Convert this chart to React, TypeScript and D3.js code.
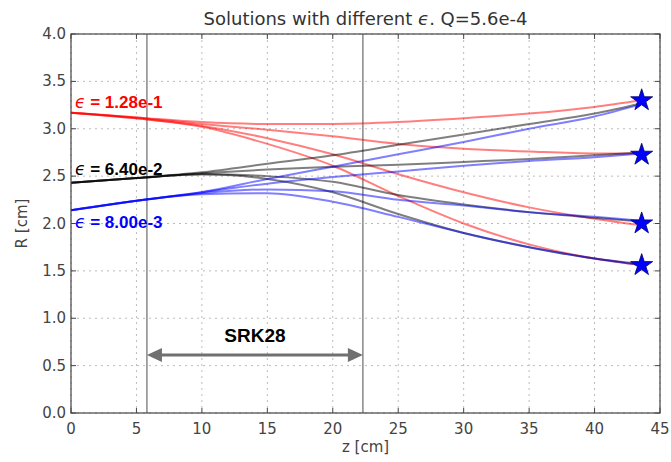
import React from "react";
import * as d3 from "d3";

const zSamples = [0, 5, 10, 15, 20, 25, 30, 35, 40, 43.6];

const redSeries = [
  [3.17, 3.12, 3.07, 3.05, 3.05, 3.07, 3.11, 3.16, 3.23, 3.3],
  [3.17, 3.12, 3.05, 2.99, 2.92, 2.84, 2.79, 2.76, 2.74, 2.74],
  [3.17, 3.11, 3.03, 2.9, 2.73, 2.52, 2.33, 2.17, 2.05, 1.98],
  [3.17, 3.11, 3.02, 2.84, 2.61, 2.29, 2.0, 1.78, 1.63, 1.56],
];
const blackSeries = [
  [2.43, 2.48, 2.54, 2.63, 2.72, 2.83, 2.94, 3.05, 3.16, 3.27],
  [2.43, 2.48, 2.53, 2.57, 2.6, 2.62, 2.65, 2.68, 2.72, 2.75],
  [2.43, 2.48, 2.52, 2.5, 2.44, 2.3, 2.2, 2.12, 2.06, 2.02],
  [2.43, 2.48, 2.52, 2.47, 2.33, 2.1, 1.9, 1.75, 1.63, 1.57],
];
const blueSeries = [
  [2.14, 2.24, 2.33, 2.47, 2.6, 2.73, 2.86, 3.0, 3.13, 3.26],
  [2.14, 2.24, 2.33, 2.42, 2.49, 2.55, 2.61, 2.66, 2.7, 2.74],
  [2.14, 2.24, 2.32, 2.36, 2.34, 2.25, 2.19, 2.12, 2.07, 2.03],
  [2.14, 2.24, 2.31, 2.32, 2.23, 2.07, 1.9, 1.75, 1.63, 1.56],
];

const targetZ = [43.6, 43.6, 43.6, 43.6];
const targetR = [3.3, 2.725, 2.0, 1.56];

const xTicks = [0, 5, 10, 15, 20, 25, 30, 35, 40, 45];
const yTicks = [0, 0.5, 1, 1.5, 2, 2.5, 3, 3.5, 4];

const srkStart = 5.8;
const srkEnd = 22.3;

const epsLabels = [
  { text: "1.28e-1", r: 3.22, color: "#ff0000" },
  { text: "6.40e-2", r: 2.51, color: "#000000" },
  { text: "8.00e-3", r: 1.95, color: "#0000ff" },
];

const W = 671;
const H = 462;
const M = { left: 71, right: 11, top: 34, bottom: 49 };

export default function App() {
  const x = d3.scaleLinear().domain([0, 45]).range([M.left, W - M.right]);
  const y = d3.scaleLinear().domain([0, 4]).range([H - M.bottom, M.top]);
  const line = d3
    .line<number>()
    .x((_, i) => x(zSamples[i]))
    .y((d) => y(d))
    .curve(d3.curveMonotoneX);

  const groups = [
    { data: redSeries, color: "#ff0000" },
    { data: blackSeries, color: "#000000" },
    { data: blueSeries, color: "#0000ff" },
  ];

  const star = d3.symbol().type(d3.symbolStar).size(150)() as string;
  const font = "DejaVu Sans, sans-serif";
  const x0 = M.left;
  const x1 = W - M.right;
  const yT = M.top;
  const yB = H - M.bottom;
  const ay = 355;
  const ax0 = x(srkStart);
  const ax1 = x(srkEnd);

  return (
    <svg
      width={W}
      height={H}
      style={{ position: "absolute", left: 0, top: 0, background: "#fff" }}
    >
      <defs>
        <clipPath id="plot">
          <rect x={x0} y={yT} width={x1 - x0} height={yB - yT} />
        </clipPath>
      </defs>
      {/* grid */}
      {xTicks.map((t) => (
        <line key={"gx" + t} x1={x(t)} x2={x(t)} y1={yT} y2={yB} stroke="#bbb" strokeWidth={1} strokeDasharray="2,4" />
      ))}
      {yTicks.map((t) => (
        <line key={"gy" + t} x1={x0} x2={x1} y1={y(t)} y2={y(t)} stroke="#bbb" strokeWidth={1} strokeDasharray="2,4" />
      ))}
      {/* SRK region lines */}
      <line x1={ax0} x2={ax0} y1={yT} y2={yB} stroke="#888" strokeWidth={1.5} />
      <line x1={ax1} x2={ax1} y1={yT} y2={yB} stroke="#888" strokeWidth={1.5} />
      {/* curves */}
      <g clipPath="url(#plot)">
        {groups.map((g, gi) =>
          g.data.map((s, si) => (
            <path
              key={gi + "-" + si}
              d={line(s) as string}
              fill="none"
              stroke={g.color}
              strokeOpacity={0.5}
              strokeWidth={2}
            />
          ))
        )}
      </g>
      {/* stars */}
      {targetR.map((r, i) => (
        <path
          key={"st" + i}
          d={star}
          transform={`translate(${x(targetZ[i])},${y(r)})`}
          fill="#0000ff"
          stroke="#000066"
          strokeWidth={0.8}
        />
      ))}
      {/* frame */}
      <rect x={x0} y={yT} width={x1 - x0} height={yB - yT} fill="none" stroke="#444" strokeWidth={1.2} />
      {/* ticks */}
      {xTicks.map((t) => (
        <g key={"tx" + t}>
          <line x1={x(t)} x2={x(t)} y1={yB} y2={yB - 5} stroke="#444" />
          <line x1={x(t)} x2={x(t)} y1={yT} y2={yT + 5} stroke="#444" />
          <text x={x(t)} y={yB + 21} textAnchor="middle" fontFamily={font} fontSize={15} fill="#444">
            {t}
          </text>
        </g>
      ))}
      {yTicks.map((t) => (
        <g key={"ty" + t}>
          <line x1={x0} x2={x0 + 5} y1={y(t)} y2={y(t)} stroke="#444" />
          <line x1={x1} x2={x1 - 5} y1={y(t)} y2={y(t)} stroke="#444" />
          <text x={x0 - 5} y={y(t) + 5} textAnchor="end" fontFamily={font} fontSize={15} fill="#444">
            {t.toFixed(1)}
          </text>
        </g>
      ))}
      {/* axis labels */}
      <text x={(x0 + x1) / 2} y={452} textAnchor="middle" fontFamily={font} fontSize={15} fill="#444">
        z [cm]
      </text>
      <text
        transform={`translate(27,${(yT + yB) / 2}) rotate(-90)`}
        textAnchor="middle"
        fontFamily={font}
        fontSize={15}
        fill="#444"
      >
        R [cm]
      </text>
      {/* title */}
      <text x={(x0 + x1) / 2} y={25} textAnchor="middle" fontFamily={font} fontSize={18} fill="#333">
        Solutions with different <tspan fontStyle="italic">ϵ</tspan>. Q=5.6e-4
      </text>
      {/* epsilon labels */}
      {epsLabels.map((l) => (
        <text
          key={l.text}
          x={x0 + 4}
          y={y(l.r)}
          fontFamily="Liberation Sans, Arial, sans-serif"
          fontSize={17}
          fontWeight="bold"
          fill={l.color}
        >
          <tspan fontFamily="DejaVu Sans, sans-serif" fontStyle="italic" fontWeight="normal">ϵ</tspan> = {l.text}
        </text>
      ))}
      {/* SRK28 arrow */}
      <line x1={ax0 + 12} x2={ax1 - 12} y1={ay} y2={ay} stroke="#707070" strokeWidth={3} />
      <path d={`M${ax0},${ay} L${ax0 + 15},${ay - 7} L${ax0 + 15},${ay + 7} Z`} fill="#707070" />
      <path d={`M${ax1},${ay} L${ax1 - 15},${ay - 7} L${ax1 - 15},${ay + 7} Z`} fill="#707070" />
      <text
        x={(ax0 + ax1) / 2}
        y={342}
        textAnchor="middle"
        fontFamily="Liberation Sans, Arial, sans-serif"
        fontSize={19}
        fontWeight="bold"
        fill="#000"
      >
        SRK28
      </text>
    </svg>
  );
}
